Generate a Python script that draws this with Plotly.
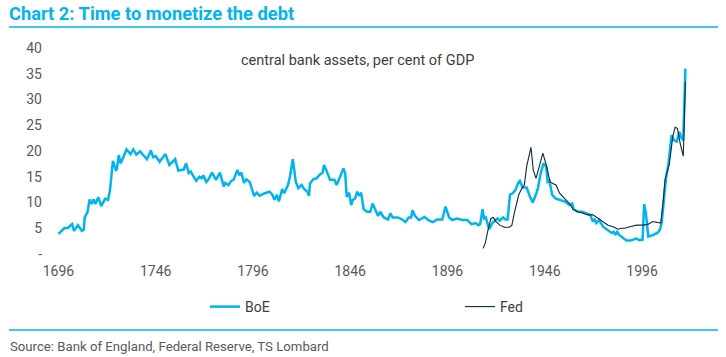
import plotly.graph_objects as go

# ---- data ----
boe_years = [1696, 1699, 1701, 1703, 1704, 1706, 1708, 1709, 1709.5, 1711, 1712, 1713, 1714, 1715,
             1716.5, 1718, 1720, 1721.5, 1722.5, 1724, 1725.5, 1726, 1727, 1728, 1731, 1733, 1734.5,
             1736, 1738, 1741.5, 1743.5, 1744.7, 1746, 1748, 1751, 1753, 1756, 1757.6, 1760.4, 1761.6,
             1763, 1764, 1766.8, 1768.5, 1769.7, 1770.5, 1772, 1773, 1775, 1777, 1779, 1781, 1781.7,
             1783.4, 1784.8, 1786, 1788, 1789, 1790, 1791.4, 1792.6, 1794.3, 1796.6, 1798, 1799.5,
             1802, 1804.6, 1806, 1807, 1808.3, 1809.3, 1811, 1812, 1814, 1815, 1816.5, 1818, 1819.3,
             1821, 1822.4, 1824, 1824.8, 1825.3, 1827, 1828.7, 1830.5, 1831.7, 1832.5, 1834, 1835.6,
             1837.9, 1839, 1840.8, 1842.5, 1843.4, 1844.2, 1845.4, 1846.5, 1847.3, 1848.5, 1849.6,
             1850.6, 1851.6, 1852.9, 1854.6, 1856.3, 1857.5, 1858.9, 1860.3, 1861.4, 1863.2, 1865.4,
             1866.6, 1867.8, 1870.6, 1872.6, 1874.4, 1876, 1877.3, 1878, 1879.3, 1881.3, 1884.2,
             1886.4, 1888.5, 1890.7, 1893.3, 1895, 1896.8, 1898.5, 1901, 1903.6, 1906.2, 1907, 1908.4,
             1910.5, 1911.9, 1912.8, 1914, 1914.8, 1915.7, 1917.4, 1919, 1921.7, 1922.9, 1924.6,
             1925.7, 1926.9, 1928.1, 1929.5, 1930.9, 1932.6, 1933.2, 1934.6, 1936.7, 1938.4, 1939.8,
             1941.4, 1942.5, 1943.7, 1945.3, 1946.7, 1947.5, 1948.4, 1949.8, 1951.5, 1953.6, 1956.2,
             1958.7, 1960.1, 1960.8, 1963, 1965.2, 1967.3, 1969.4, 1970.5, 1971.6, 1972.5, 1973.9,
             1976, 1978, 1980.3, 1981.5, 1982.3, 1983.2, 1984.2, 1985.4, 1986.6, 1988, 1990, 1991.4,
             1993.2, 1994.6, 1996.3, 1997.1, 1998, 1999.2, 2001.8, 2003.9, 2005.2, 2006.1, 2007,
             2008.3, 2009.5, 2011.2, 2012.4, 2013.8, 2015.2, 2016.3, 2017.2, 2018.3]
boe_values = [3.9, 5.0, 5.1, 5.8, 4.5, 5.6, 4.5, 4.7, 7.1, 8.2, 10.6, 9.7, 10.6, 9.7,
              11.0, 9.3, 10.7, 10.5, 12.4, 18.1, 16.3, 16.4, 19.2, 17.6, 20.3, 19.4, 20.3,
              19.3, 19.9, 18.4, 20.1, 18.8, 19.0, 17.9, 19.4, 17.3, 18.4, 16.2, 16.4, 17.6,
              15.7, 16.0, 14.2, 15.0, 14.7, 15.3, 14.0, 14.4, 15.8, 14.4, 15.8, 13.1, 13.8,
              13.4, 14.2, 14.4, 16.3, 15.3, 15.8, 13.8, 14.5, 14.0, 11.3, 11.9, 11.3,
              11.8, 12.1, 11.5, 10.5, 11.5, 10.2, 12.6, 11.8, 13.4, 15.0, 18.4, 14.0, 12.8,
              13.4, 12.6, 12.1, 11.3, 13.7, 14.5, 14.7, 15.5, 15.7, 17.3, 16.0, 14.4,
              14.4, 13.4, 15.0, 16.6, 15.7, 11.1, 11.9, 9.5, 10.5, 10.8, 12.1,
              11.3, 11.9, 8.7, 8.2, 8.2, 9.8, 8.5, 7.4, 8.2, 7.1, 6.7,
              7.9, 7.1, 7.1, 6.7, 6.2, 7.1, 7.1, 8.5, 7.4, 6.6, 7.2,
              6.5, 6.2, 6.7, 6.7, 9.2, 7.1, 6.6, 6.9, 6.6, 6.6, 6.3, 5.8,
              6.0, 5.6, 5.8, 8.7, 6.9, 7.1, 4.8, 6.0, 6.9, 6.5, 7.1,
              6.7, 6.7, 11.5, 11.8, 12.4, 14.0, 14.2, 12.9, 12.9, 11.1, 10.0,
              11.5, 12.8, 15.3, 17.6, 17.0, 14.0, 14.2, 11.5, 10.8, 10.5, 10.2,
              9.5, 9.8, 8.7, 8.2, 8.2, 7.9, 7.6, 6.5, 6.7, 6.0, 6.6,
              5.3, 4.7, 4.1, 4.3, 3.7, 4.3, 3.7, 3.4, 3.0, 2.6, 2.6, 2.8,
              3.0, 2.7, 2.8, 9.7, 7.9, 3.4, 3.7, 4.1, 4.7, 6.0, 9.2,
              14.7, 17.3, 23.1, 22.1, 21.8, 23.7, 22.5, 22.1, 36.0]

fed_years = [1914.3, 1915.4, 1916.6, 1918.3, 1919.5, 1920.9, 1922.9, 1925.2, 1927.8, 1929.1,
             1930.3, 1932.6, 1934.3, 1935.5, 1936.7, 1938.1, 1938.9, 1940.1, 1941.5, 1943.6,
             1945, 1947, 1948.7, 1950.1, 1951.8, 1953.6, 1956.2, 1958.7, 1960.5, 1963, 1965.6,
             1968.2, 1970.8, 1973.4, 1976, 1978.5, 1981.1, 1983.7, 1985.4, 1987.1, 1989.7,
             1993.2, 1996.6, 1999.2, 2001.5, 2003.5, 2005.6, 2006.6, 2007.8, 2010.1, 2011.8,
             2013, 2014.2, 2015.6, 2017.2, 2018.3]
fed_values = [1.1, 2.1, 4.3, 6.9, 7.1, 6.3, 5.6, 5.2, 5.2, 5.6,
              7.9, 11.5, 12.8, 13.4, 17.0, 19.6, 20.7, 16.3, 14.7, 17.6,
              19.6, 17.0, 14.0, 13.7, 13.4, 11.8, 10.8, 9.8, 8.7, 8.2, 7.9,
              7.6, 7.6, 6.9, 6.3, 5.6, 5.3, 4.8, 5.0, 5.0, 5.3,
              5.6, 5.6, 5.8, 6.3, 6.1, 6.0, 9.2, 14.4, 17.6, 22.8,
              24.6, 24.4, 21.5, 19.0, 33.5]

x_tick_years = [1696, 1746, 1796, 1846, 1896, 1946, 1996]
y_tick_values = [0, 5, 10, 15, 20, 25, 30, 35, 40]
y_tick_labels = ["-", "5", "10", "15", "20", "25", "30", "35", "40"]

CYAN = "#00B4F0"
NAVY = "#0B2A3C"
FONT = "Roboto"

W, H = 726, 357
L, R, T, B = 46, 26, 48, 103
PW, PH = W - L - R, H - T - B


def px_x(p):
    return (p - L) / PW


def px_y(p):
    return (H - B - p) / PH


fig = go.Figure()
fig.add_trace(go.Scatter(x=boe_years, y=boe_values, mode="lines", name="BoE",
                         line=dict(color=CYAN, width=2.5), legend="legend"))
fig.add_trace(go.Scatter(x=fed_years, y=fed_values, mode="lines", name="Fed",
                         line=dict(color=NAVY, width=1.1), legend="legend2"))

legend_common = dict(orientation="h", xanchor="left", yanchor="middle",
                     font=dict(family=FONT, size=14, color="#404040"),
                     bgcolor="rgba(0,0,0,0)", borderwidth=0)

fig.update_layout(
    width=W, height=H,
    margin=dict(l=L, r=R, t=T, b=B),
    paper_bgcolor="white", plot_bgcolor="white",
    font=dict(family=FONT, color="#595959", size=13),
    title=dict(text="<b>Chart 2: Time to monetize the debt</b>",
               x=9 / W, xanchor="left", y=1 - 14 / H, yanchor="middle",
               font=dict(family=FONT, size=18.3, color=CYAN)),
    xaxis=dict(range=[1689.6, 2025.8], tickvals=x_tick_years,
               showgrid=False, zeroline=False, showline=False, ticks="",
               ticklabelstandoff=7,
               tickfont=dict(family=FONT, size=14, color="#595959")),
    yaxis=dict(range=[0, 40], tickvals=y_tick_values, ticktext=y_tick_labels,
               showgrid=False, zeroline=False, showline=False, ticks="",
               ticklabelstandoff=3,
               tickfont=dict(family=FONT, size=14, color="#595959")),
    legend=dict(x=px_x(205), y=px_y(307), **legend_common),
    legend2=dict(x=px_x(460), y=px_y(307), **legend_common),
    showlegend=True,
)

fig.add_annotation(text="central bank assets, per cent of GDP", xref="paper", yref="paper",
                   x=px_x(357), y=px_y(61), showarrow=False, xanchor="center", yanchor="middle",
                   font=dict(family=FONT, size=14.5, color="#404040"))
fig.add_annotation(text="Source: Bank of England, Federal Reserve, TS Lombard", xref="paper",
                   yref="paper", x=px_x(8), y=px_y(346), showarrow=False, xanchor="left",
                   yanchor="middle", font=dict(family=FONT, size=13.2, color="#595959"))

for ypx in (27, 330):
    fig.add_shape(type="line", xref="paper", yref="paper", x0=px_x(9), x1=px_x(718),
                  y0=px_y(ypx), y1=px_y(ypx), line=dict(color=CYAN, width=1.3))

fig.write_html("out.html", config={"displayModeBar": False},
               post_script="document.body.style.margin='0px';")
